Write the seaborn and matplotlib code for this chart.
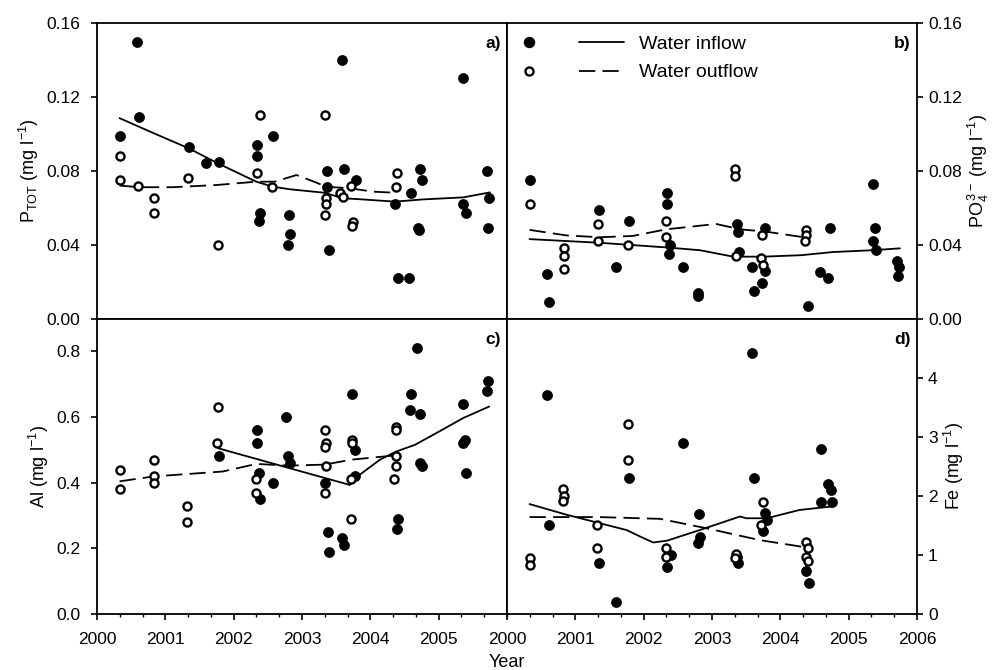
import numpy as np
import pandas as pd
import matplotlib
matplotlib.use("Agg")
import matplotlib.pyplot as plt
from matplotlib.ticker import AutoMinorLocator, FormatStrFormatter
from matplotlib.lines import Line2D
from matplotlib.legend_handler import HandlerTuple
import seaborn as sns

sns.set_style("ticks")
plt.rcParams["font.family"] = ["Liberation Sans", "DejaVu Sans"]
plt.rcParams["mathtext.fontset"] = "custom"
plt.rcParams["mathtext.rm"] = "Liberation Sans"
plt.rcParams["mathtext.it"] = "Liberation Sans:italic"
plt.rcParams["mathtext.bf"] = "Liberation Sans:bold"
for k in ["axes.edgecolor", "xtick.color", "ytick.color", "text.color", "axes.labelcolor"]:
    plt.rcParams[k] = "black"

# ---- a) P_TOT ----
ptot_in_x = [2000.58, 2000.61, 2000.34, 2001.34, 2001.60, 2001.78, 2002.34, 2002.34, 2002.57, 2002.38,
             2002.37, 2002.81, 2002.82, 2002.79, 2003.37, 2003.37, 2003.40, 2003.59, 2003.61, 2003.79,
             2004.36, 2004.40, 2004.57, 2004.60, 2004.72, 2004.75, 2004.70, 2004.71, 2005.36, 2005.35,
             2005.40, 2005.70, 2005.74, 2005.72]
ptot_in_y = [0.150, 0.109, 0.099, 0.093, 0.084, 0.085, 0.094, 0.088, 0.099, 0.057,
             0.053, 0.056, 0.046, 0.040, 0.080, 0.071, 0.037, 0.140, 0.081, 0.075,
             0.062, 0.022, 0.022, 0.068, 0.081, 0.075, 0.049, 0.048, 0.130, 0.062,
             0.057, 0.080, 0.065, 0.049]
ptot_out_x = [2000.33, 2000.33, 2000.60, 2000.83, 2000.83, 2001.33, 2001.77, 2002.38, 2002.34, 2002.56,
              2003.33, 2003.35, 2003.35, 2003.33, 2003.55, 2003.60, 2003.71, 2003.75, 2003.73, 2004.39,
              2004.37]
ptot_out_y = [0.088, 0.075, 0.072, 0.065, 0.057, 0.076, 0.040, 0.110, 0.079, 0.071,
              0.110, 0.065, 0.062, 0.056, 0.068, 0.066, 0.072, 0.052, 0.050, 0.079,
              0.071]
ptot_fit_in_x = [2000.33, 2000.82, 2001.34, 2001.77, 2002.33, 2002.57, 2002.82, 2003.33, 2003.60,
                 2003.80, 2004.36, 2004.77, 2005.36, 2005.75]
ptot_fit_in_y = [0.1085, 0.1005, 0.0922, 0.0840, 0.0741, 0.0714, 0.0700, 0.0681, 0.0651,
                 0.0647, 0.0633, 0.0645, 0.0656, 0.0683]
ptot_fit_out_x = [2000.33, 2000.62, 2001.11, 2001.75, 2002.33, 2002.60, 2002.92, 2003.21, 2003.35,
                  2003.70, 2004.04, 2004.36]
ptot_fit_out_y = [0.0720, 0.0711, 0.0711, 0.0723, 0.0741, 0.0741, 0.0777, 0.0736, 0.0714,
                  0.0705, 0.0687, 0.0681]

# ---- b) PO4 ----
po4_in_x = [2000.34, 2000.59, 2000.61, 2001.34, 2001.60, 2001.78, 2002.34, 2002.34, 2002.38, 2002.37,
            2002.57, 2002.79, 2002.80, 2003.37, 2003.38, 2003.40, 2003.59, 2003.61, 2003.78, 2003.73,
            2003.77, 2004.40, 2004.58, 2004.70, 2004.73, 2005.36, 2005.38, 2005.35, 2005.40, 2005.70,
            2005.74, 2005.72]
po4_in_y = [0.075, 0.024, 0.009, 0.059, 0.028, 0.053, 0.068, 0.062, 0.040, 0.035,
            0.028, 0.014, 0.012, 0.051, 0.047, 0.036, 0.028, 0.015, 0.049, 0.019,
            0.026, 0.007, 0.025, 0.022, 0.049, 0.073, 0.049, 0.042, 0.037, 0.031,
            0.028, 0.023]
po4_out_x = [2000.33, 2000.83, 2000.83, 2000.83, 2001.33, 2001.33, 2001.77, 2002.33, 2002.33, 2003.33,
             2003.33, 2003.35, 2003.73, 2003.72, 2003.75, 2004.38, 2004.37, 2004.36]
po4_out_y = [0.062, 0.038, 0.034, 0.027, 0.051, 0.042, 0.040, 0.053, 0.044, 0.081,
             0.077, 0.034, 0.045, 0.033, 0.029, 0.048, 0.045, 0.042]
po4_fit_in_x = [2000.33, 2001.36, 2002.33, 2002.82, 2003.31, 2003.75, 2004.31, 2004.77, 2005.36, 2005.75]
po4_fit_in_y = [0.0430, 0.0410, 0.0385, 0.0370, 0.0335, 0.0335, 0.0343, 0.0360, 0.0370, 0.0380]
po4_fit_out_x = [2000.33, 2000.87, 2001.36, 2001.84, 2002.33, 2003.06, 2003.41, 2003.80, 2004.36]
po4_fit_out_y = [0.0480, 0.0450, 0.0440, 0.0447, 0.0483, 0.0512, 0.0483, 0.0470, 0.0439]

# ---- c) Al ----
al_in_x = [2001.78, 2002.34, 2002.34, 2002.37, 2002.38, 2002.57, 2002.77, 2002.79, 2002.82, 2003.34,
           2003.38, 2003.40, 2003.59, 2003.61, 2003.73, 2003.77, 2003.78, 2004.40, 2004.39, 2004.69,
           2004.60, 2004.58, 2004.72, 2004.72, 2004.75, 2005.36, 2005.36, 2005.38, 2005.40, 2005.72,
           2005.70]
al_in_y = [0.48, 0.56, 0.52, 0.43, 0.35, 0.40, 0.60, 0.48, 0.46, 0.40,
           0.25, 0.19, 0.23, 0.21, 0.67, 0.50, 0.42, 0.29, 0.26, 0.81,
           0.67, 0.62, 0.61, 0.46, 0.45, 0.64, 0.52, 0.53, 0.43, 0.71,
           0.68]
al_out_x = [2000.33, 2000.33, 2000.83, 2000.83, 2000.83, 2001.32, 2001.32, 2001.77, 2001.76, 2002.33,
            2002.33, 2003.33, 2003.35, 2003.34, 2003.35, 2003.34, 2003.73, 2003.73, 2003.72, 2003.72,
            2004.37, 2004.38, 2004.37, 2004.38, 2004.35]
al_out_y = [0.44, 0.38, 0.47, 0.42, 0.40, 0.33, 0.28, 0.63, 0.52, 0.41,
            0.37, 0.56, 0.52, 0.51, 0.45, 0.37, 0.53, 0.52, 0.41, 0.29,
            0.57, 0.56, 0.48, 0.45, 0.41]
al_fit_in_x = [2001.77, 2002.82, 2003.70, 2003.85, 2004.14, 2004.38, 2004.65, 2005.00, 2005.36, 2005.74]
al_fit_in_y = [0.505, 0.444, 0.393, 0.425, 0.470, 0.495, 0.515, 0.555, 0.597, 0.632]
al_fit_out_x = [2000.33, 2000.83, 2001.84, 2002.33, 2002.82, 2003.33, 2003.72, 2004.36]
al_fit_out_y = [0.404, 0.419, 0.434, 0.457, 0.452, 0.455, 0.470, 0.483]

# ---- d) Fe ----
fe_in_x = [2000.59, 2000.61, 2001.34, 2001.60, 2001.78, 2002.34, 2002.40, 2002.57, 2002.79, 2002.82,
           2002.81, 2003.36, 2003.38, 2003.59, 2003.62, 2003.77, 2003.80, 2003.74, 2004.37, 2004.42,
           2004.59, 2004.70, 2004.74, 2004.60, 2004.76]
fe_in_y = [3.70, 1.50, 0.86, 0.21, 2.30, 0.79, 1.00, 2.90, 1.20, 1.30,
           1.69, 0.97, 0.86, 4.41, 2.30, 1.71, 1.59, 1.40, 0.73, 0.53,
           2.80, 2.20, 2.10, 1.89, 1.89]
fe_out_x = [2000.33, 2000.33, 2000.82, 2000.83, 2000.82, 2001.32, 2001.32, 2001.77, 2001.77, 2002.33,
            2002.33, 2003.35, 2003.33, 2003.74, 2003.72, 2004.38, 2004.40, 2004.38, 2004.40]
fe_out_y = [0.94, 0.83, 2.12, 2.00, 1.92, 1.51, 1.11, 3.22, 2.61, 1.11,
            0.96, 1.02, 0.94, 1.90, 1.51, 1.21, 1.11, 0.97, 0.90]
fe_fit_in_x = [2000.33, 2000.87, 2001.75, 2001.95, 2002.14, 2002.34, 2002.82, 2003.41, 2003.50,
               2003.80, 2004.28, 2004.76]
fe_fit_in_y = [1.86, 1.68, 1.42, 1.31, 1.21, 1.24, 1.42, 1.65, 1.62, 1.62, 1.76, 1.82]
fe_fit_out_x = [2000.33, 2001.34, 2002.24, 2002.92, 2003.70, 2004.36]
fe_fit_out_y = [1.64, 1.64, 1.61, 1.45, 1.25, 1.13]

TICK_FS = 12.5
DASH = (0, (9, 4))


def draw_panel(ax, in_x, in_y, out_x, out_y, fin_x, fin_y, fout_x, fout_y):
    sns.lineplot(x=fin_x, y=fin_y, ax=ax, color="k", lw=1.3, estimator=None, sort=True, zorder=2)
    sns.lineplot(x=fout_x, y=fout_y, ax=ax, color="k", lw=1.3, linestyle=DASH,
                 estimator=None, sort=True, zorder=2)
    sns.scatterplot(x=in_x, y=in_y, ax=ax, color="k", edgecolor="k", linewidth=0.5, s=52, zorder=3)
    sns.scatterplot(x=out_x, y=out_y, ax=ax, color="white", edgecolor="k", linewidth=1.7, s=34, zorder=4)
    ax.set_xlim(2000, 2006)
    ax.xaxis.set_minor_locator(AutoMinorLocator(3))
    ax.tick_params(which="major", direction="out", length=4, width=1.2, labelsize=TICK_FS)
    ax.tick_params(which="minor", direction="out", length=2.5, width=1.0)
    ax.tick_params(axis="x", which="major", pad=9)
    for s in ax.spines.values():
        s.set_linewidth(1.3)


fig = plt.figure(figsize=(9.92, 6.70), dpi=100)
W, H = 0.4133, 0.4410
ax_a = fig.add_axes([0.0978, 0.5246, W, H])
ax_b = fig.add_axes([0.0978 + W, 0.5246, W, H])
ax_c = fig.add_axes([0.0978, 0.0836, W, H])
ax_d = fig.add_axes([0.0978 + W, 0.0836, W, H])

draw_panel(ax_a, ptot_in_x, ptot_in_y, ptot_out_x, ptot_out_y,
           ptot_fit_in_x, ptot_fit_in_y, ptot_fit_out_x, ptot_fit_out_y)
draw_panel(ax_b, po4_in_x, po4_in_y, po4_out_x, po4_out_y,
           po4_fit_in_x, po4_fit_in_y, po4_fit_out_x, po4_fit_out_y)
draw_panel(ax_c, al_in_x, al_in_y, al_out_x, al_out_y,
           al_fit_in_x, al_fit_in_y, al_fit_out_x, al_fit_out_y)
draw_panel(ax_d, fe_in_x, fe_in_y, fe_out_x, fe_out_y,
           fe_fit_in_x, fe_fit_in_y, fe_fit_out_x, fe_fit_out_y)

for ax in (ax_a, ax_b):
    ax.set_ylim(0, 0.16)
    ax.set_yticks([0, 0.04, 0.08, 0.12, 0.16])
    ax.yaxis.set_major_formatter(FormatStrFormatter("%.2f"))
    ax.tick_params(axis="x", which="both", bottom=False, labelbottom=False)

ax_c.set_ylim(0, 0.9)
ax_c.set_yticks([0, 0.2, 0.4, 0.6, 0.8])
ax_c.yaxis.set_major_formatter(FormatStrFormatter("%.1f"))
ax_d.set_ylim(0, 5)
ax_d.set_yticks([0, 1, 2, 3, 4])

ax_c.set_xticks(range(2000, 2006))
ax_d.set_xticks(range(2000, 2007))
for ax in (ax_c, ax_d):
    ax.xaxis.set_major_formatter(FormatStrFormatter("%d"))

for ax in (ax_a, ax_c):
    ax.tick_params(axis="y", pad=8)
for ax in (ax_b, ax_d):
    ax.yaxis.tick_right()
    ax.yaxis.set_label_position("right")
    ax.tick_params(axis="y", left=False, right=True, labelleft=False, labelright=True, pad=4)

ax_a.set_ylabel(r"P$_{\mathrm{TOT}}$ (mg l$^{-1}$)", fontsize=13, labelpad=4)
ax_b.set_ylabel(r"PO$_4^{\,3-}$ (mg l$^{-1}$)", fontsize=13, labelpad=3)
ax_c.set_ylabel(r"Al (mg l$^{-1}$)", fontsize=13, labelpad=4)
ax_d.set_ylabel(r"Fe (mg l$^{-1}$)", fontsize=13, labelpad=3)
for ax in (ax_a, ax_b, ax_c, ax_d):
    ax.set_xlabel("")

for ax, tag in zip((ax_a, ax_b, ax_c, ax_d), ("a)", "b)", "c)", "d)")):
    ax.text(0.985, 0.93, tag, transform=ax.transAxes, ha="right", va="center",
            fontsize=TICK_FS, fontweight="bold")

fig.text(0.511, 0.004, "Year", ha="center", va="baseline", fontsize=13)

h_in = (Line2D([], [], marker="o", ls="none", mfc="k", mec="k", ms=7.2),
        Line2D([], [], color="k", lw=1.3))
h_out = (Line2D([], [], marker="o", ls="none", mfc="white", mec="k", mew=1.7, ms=5.8),
         Line2D([], [], color="k", lw=1.3, ls=DASH))
ax_b.legend([h_in, h_out], ["Water inflow", "Water outflow"],
            handler_map={tuple: HandlerTuple(ndivide=None, pad=1.45)},
            handlelength=6.0, handletextpad=0.8, loc="upper left",
            bbox_to_anchor=(0.0, 0.958), frameon=False, borderpad=0, borderaxespad=0,
            labelspacing=0.55, fontsize=14, numpoints=1)

fig.savefig("out.png", dpi=100)
plt.close(fig)
